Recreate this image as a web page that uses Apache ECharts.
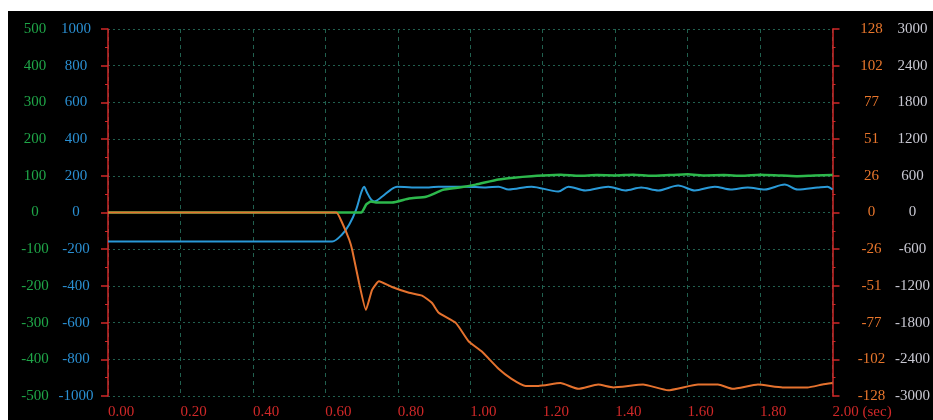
<!DOCTYPE html>
<html>
<head>
<meta charset="utf-8">
<script src="https://cdn.jsdelivr.net/npm/echarts@6/dist/echarts.min.js"></script>
<style>
  html, body { margin: 0; padding: 0; background: #fff; }
  #wrap { position: relative; width: 933px; height: 420px; background: #fff; overflow: hidden; }
  #chart { position: absolute; left: 8px; top: 11px; width: 925px; height: 409px; background: #000; }
</style>
</head>
<body>
<div id="wrap"><div id="chart"></div></div>
<script>
// time axis (sec)
let xTicks = [0, 0.2, 0.4, 0.6, 0.8, 1.0, 1.2, 1.4, 1.6, 1.8, 2.0];

// blue trace, [sec, value on the +-1000 axis]
let blueData = [
  [0, -158], [0.3, -158], [0.619, -158], [0.646, -120], [0.666, -65], [0.685, 16],
  [0.699, 109], [0.707, 141], [0.715, 109], [0.726, 71], [0.735, 60], [0.757, 87],
  [0.781, 125], [0.798, 141], [0.839, 136], [0.886, 136], [0.913, 141], [0.933, 141],
  [0.988, 141], [1.043, 136], [1.078, 141], [1.106, 125], [1.169, 141], [1.243, 114],
  [1.271, 141], [1.318, 120], [1.381, 141], [1.428, 120], [1.472, 136], [1.519, 120],
  [1.574, 147], [1.620, 120], [1.675, 141], [1.719, 125], [1.766, 136], [1.813, 125],
  [1.868, 152], [1.904, 125], [1.959, 136], [1.986, 141], [2.0, 125]
];

// green trace, [sec, value on the +-500 axis]
let greenData = [
  [0, 0], [0.699, 0], [0.713, 22], [0.726, 30], [0.743, 27], [0.784, 27], [0.831, 38],
  [0.878, 43], [0.913, 57], [0.925, 62], [0.97, 68], [1.015, 76], [1.078, 90],
  [1.12, 95], [1.169, 99], [1.2, 101], [1.25, 103], [1.3, 100], [1.35, 102],
  [1.4, 101], [1.45, 103], [1.5, 100], [1.55, 102], [1.6, 104], [1.65, 101],
  [1.7, 102], [1.75, 100], [1.8, 103], [1.85, 101], [1.9, 99], [1.95, 101], [2.0, 102]
];

// orange trace, [sec, value on the +-128 axis]
let orangeData = [
  [0, 0], [0.63, 0], [0.646, -7], [0.666, -19], [0.674, -26], [0.693, -49], [0.712, -68],
  [0.729, -54], [0.748, -48], [0.784, -52], [0.831, -56], [0.867, -58], [0.894, -63],
  [0.913, -70], [0.96, -77], [0.996, -90], [1.032, -97], [1.078, -109], [1.114, -116],
  [1.153, -121], [1.188, -121], [1.249, -119], [1.298, -123], [1.353, -120], [1.395, -122],
  [1.477, -120], [1.546, -124], [1.629, -120], [1.684, -120], [1.725, -123], [1.794, -120],
  [1.862, -122], [1.931, -122], [1.972, -120], [2.0, -119]
];

let font = '"Liberation Serif", serif';
let fs = 15;
let red = '#d02828';
let gridC = '#21604f';

function plain(v) { return String(Math.round(v)); }

let chart = echarts.init(document.getElementById('chart'));

chart.setOption({
  backgroundColor: '#000',
  animation: false,
  grid: { left: 100, right: 97, top: 18, bottom: 23 },
  xAxis: {
    type: 'value',
    min: 0, max: 2, interval: 0.2,
    axisLine: { show: false },
    axisTick: { show: false },
    splitLine: { show: true, lineStyle: { color: gridC, type: [4, 4], width: 1 } },
    axisLabel: {
      color: red, fontFamily: font, fontSize: fs, margin: 9, align: 'left',
      formatter: function (v) {
        if (Math.abs(v - 2) < 1e-6) return '2.00 (sec)';
        return v.toFixed(2);
      }
    }
  },
  yAxis: [
    {
      type: 'value', position: 'left', min: -500, max: 500, interval: 100,
      axisLine: { show: false }, axisTick: { show: false }, splitLine: { show: false },
      axisLabel: { color: '#1fa648', fontFamily: font, fontSize: fs, margin: 73, align: 'center', formatter: plain }
    },
    {
      type: 'value', position: 'left', min: -1000, max: 1000, interval: 200,
      axisLine: { show: true, lineStyle: { color: red, width: 1.5 } },
      axisTick: { show: true, length: 7, lineStyle: { color: red, width: 1.5 } },
      minorTick: { show: true, splitNumber: 2, length: 3, lineStyle: { color: red } },
      splitLine: { show: true, lineStyle: { color: gridC, type: [2, 3], width: 1 } },
      axisLabel: { color: '#2a8fd2', fontFamily: font, fontSize: fs, margin: 32, align: 'center', formatter: plain }
    },
    {
      type: 'value', position: 'right', min: -128, max: 128, interval: 25.6,
      axisLine: { show: true, lineStyle: { color: red, width: 1.5 } },
      axisTick: { show: true, length: 7, lineStyle: { color: red, width: 1.5 } },
      minorTick: { show: true, splitNumber: 2, length: 3, lineStyle: { color: red } },
      splitLine: { show: false },
      axisLabel: { color: '#e8762c', fontFamily: font, fontSize: fs, margin: 39, align: 'center', formatter: plain }
    },
    {
      type: 'value', position: 'right', min: -3000, max: 3000, interval: 600,
      axisLine: { show: false }, axisTick: { show: false }, splitLine: { show: false },
      axisLabel: { color: '#c8c8d2', fontFamily: font, fontSize: fs, margin: 80, align: 'center', formatter: plain }
    }
  ],
  series: [
    {
      type: 'line', yAxisIndex: 1, data: blueData, showSymbol: false, smooth: 0.3,
      lineStyle: { color: '#2a9ad8', width: 2 }
    },
    {
      type: 'line', yAxisIndex: 0, data: greenData, showSymbol: false, smooth: 0.15,
      lineStyle: { color: '#2db84c', width: 2.5 }
    },
    {
      type: 'line', yAxisIndex: 2, data: orangeData, showSymbol: false, smooth: 0.15,
      lineStyle: { color: '#e5722e', width: 2 }
    }
  ]
});
</script>
</body>
</html>
